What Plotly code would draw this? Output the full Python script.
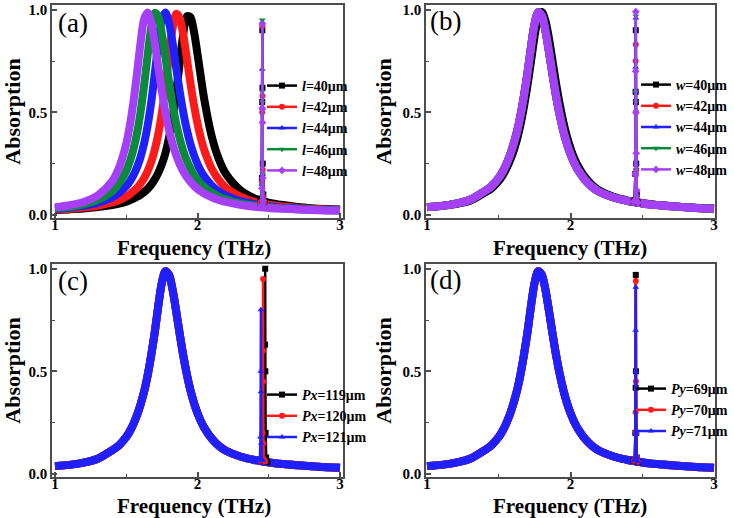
import plotly.graph_objects as go

# ---------------- data ----------------
freq = [1.0, 1.1, 1.2, 1.3, 1.4, 1.45,
        1.5, 1.525, 1.55, 1.575, 1.6, 1.625, 1.65, 1.675, 1.7, 1.725, 1.75, 1.775,
        1.8, 1.825, 1.85, 1.875, 1.9, 1.925, 1.95, 1.975, 2.0, 2.025, 2.05,
        2.1, 2.15, 2.2, 2.3, 2.4, 2.45, 2.5, 2.6, 2.7, 2.8, 2.9, 3.0]

# panel (a): arm length l
a_l40 = [0.024, 0.027, 0.031, 0.038, 0.048, 0.055,
         0.065, 0.071, 0.079, 0.088, 0.098, 0.111, 0.127, 0.147, 0.173, 0.205, 0.247, 0.302,
         0.376, 0.472, 0.595, 0.740, 0.881, 0.968, 0.964, 0.894, 0.784, 0.664, 0.553,
         0.382, 0.271, 0.199, 0.121, 0.081, 0.070, 0.060, 0.048, 0.039, 0.033, 0.029, 0.026]
a_l42 = [0.026, 0.030, 0.036, 0.045, 0.061, 0.073,
         0.090, 0.101, 0.115, 0.131, 0.153, 0.179, 0.214, 0.258, 0.318, 0.395, 0.497, 0.626,
         0.773, 0.909, 0.980, 0.960, 0.878, 0.764, 0.644, 0.536, 0.445, 0.370, 0.311,
         0.225, 0.170, 0.132, 0.089, 0.064, 0.057, 0.050, 0.041, 0.034, 0.030, 0.027, 0.024]
a_l44 = [0.030, 0.035, 0.044, 0.058, 0.085, 0.107,
         0.140, 0.163, 0.193, 0.231, 0.281, 0.347, 0.435, 0.548, 0.687, 0.836, 0.953, 0.986,
         0.937, 0.839, 0.719, 0.602, 0.500, 0.415, 0.346, 0.292, 0.248, 0.213, 0.185,
         0.143, 0.114, 0.094, 0.067, 0.052, 0.046, 0.042, 0.035, 0.031, 0.027, 0.025, 0.023]
a_l46 = [0.033, 0.040, 0.052, 0.073, 0.115, 0.153,
         0.215, 0.260, 0.319, 0.397, 0.500, 0.629, 0.777, 0.914, 0.985, 0.965, 0.883, 0.768,
         0.648, 0.539, 0.447, 0.372, 0.312, 0.265, 0.227, 0.195, 0.171, 0.150, 0.133,
         0.108, 0.089, 0.075, 0.056, 0.045, 0.041, 0.037, 0.032, 0.028, 0.026, 0.023, 0.022]
a_l48 = [0.037, 0.047, 0.063, 0.095, 0.163, 0.231,
         0.347, 0.435, 0.548, 0.687, 0.836, 0.953, 0.986, 0.937, 0.839, 0.719, 0.602, 0.500,
         0.415, 0.346, 0.292, 0.248, 0.213, 0.185, 0.162, 0.143, 0.127, 0.114, 0.103,
         0.086, 0.073, 0.063, 0.049, 0.040, 0.037, 0.034, 0.030, 0.027, 0.024, 0.022, 0.021]

# panel (b): arm width w (w=42..48 coincide)
b_w40 = [0.037, 0.043, 0.053, 0.069, 0.108, 0.130,
         0.165, 0.190, 0.222, 0.260, 0.305, 0.362, 0.435, 0.525, 0.630, 0.750, 0.871, 0.964,
         0.989, 0.947, 0.860, 0.750, 0.639, 0.539, 0.454, 0.383, 0.325, 0.278, 0.241,
         0.185, 0.146, 0.119, 0.088, 0.070, 0.064, 0.058, 0.049, 0.043, 0.038, 0.034, 0.031]
b_w42_48 = [0.038, 0.044, 0.055, 0.074, 0.115, 0.140,
            0.180, 0.208, 0.243, 0.285, 0.338, 0.400, 0.480, 0.578, 0.690, 0.820, 0.932, 0.988,
            0.971, 0.899, 0.795, 0.683, 0.577, 0.486, 0.409, 0.347, 0.296, 0.255, 0.222,
            0.172, 0.137, 0.113, 0.085, 0.068, 0.062, 0.056, 0.048, 0.042, 0.037, 0.033, 0.030]

# panels (c) and (d): broad resonance identical for all periods
cd_main = [0.038, 0.044, 0.055, 0.074, 0.115, 0.140,
           0.180, 0.208, 0.243, 0.285, 0.338, 0.400, 0.480, 0.578, 0.690, 0.820, 0.932, 0.988,
           0.971, 0.899, 0.795, 0.683, 0.577, 0.486, 0.409, 0.347, 0.296, 0.255, 0.222,
           0.172, 0.137, 0.113, 0.085, 0.068, 0.062, 0.056, 0.048, 0.042, 0.037, 0.033, 0.030]

# sharp resonance near 2.45 THz
spike_f = [2.44, 2.448, 2.452, 2.454, 2.455, 2.456, 2.458, 2.462, 2.47]
a_spk40 = [0.074, 0.080, 0.18, 0.55, 0.90, 0.62, 0.25, 0.10, 0.066]
a_spk42 = [0.060, 0.066, 0.16, 0.50, 0.92, 0.58, 0.22, 0.09, 0.053]
a_spk44 = [0.049, 0.055, 0.15, 0.71, 0.94, 0.52, 0.20, 0.08, 0.044]
a_spk46 = [0.043, 0.050, 0.14, 0.60, 0.95, 0.55, 0.20, 0.07, 0.039]
a_spk48 = [0.039, 0.045, 0.13, 0.52, 0.93, 0.45, 0.18, 0.07, 0.036]

b_spk40 = [0.066, 0.070, 0.20, 0.60, 0.90, 0.55, 0.25, 0.10, 0.061]
b_spk42 = [0.064, 0.070, 0.20, 0.75, 0.83, 0.50, 0.22, 0.09, 0.059]
b_spk44 = [0.064, 0.070, 0.20, 0.72, 0.96, 0.60, 0.25, 0.10, 0.059]
b_spk46 = [0.064, 0.070, 0.20, 0.60, 0.97, 0.55, 0.22, 0.09, 0.059]
b_spk48 = [0.064, 0.070, 0.20, 0.70, 0.99, 0.50, 0.30, 0.12, 0.059]

c_spk119_f = [2.46, 2.468, 2.472, 2.474, 2.475, 2.476, 2.478, 2.482, 2.49]
c_spk119 = [0.064, 0.070, 0.20, 0.63, 1.00, 0.50, 0.20, 0.08, 0.058]
c_spk120_f = [2.445, 2.453, 2.457, 2.459, 2.46, 2.461, 2.463, 2.467, 2.475]
c_spk120 = [0.064, 0.070, 0.20, 0.60, 0.95, 0.45, 0.15, 0.07, 0.060]
c_spk121_f = [2.43, 2.438, 2.442, 2.444, 2.445, 2.446, 2.448, 2.452, 2.46]
c_spk121 = [0.066, 0.072, 0.18, 0.50, 0.80, 0.40, 0.15, 0.07, 0.064]

d_spk69 = [0.064, 0.070, 0.20, 0.42, 0.97, 0.50, 0.20, 0.08, 0.059]
d_spk70 = [0.064, 0.070, 0.20, 0.30, 0.94, 0.45, 0.20, 0.08, 0.059]
d_spk71 = [0.064, 0.070, 0.20, 0.70, 0.91, 0.50, 0.20, 0.08, 0.059]

a_names = ["<i>l</i>=40μm", "<i>l</i>=42μm", "<i>l</i>=44μm", "<i>l</i>=46μm", "<i>l</i>=48μm"]
b_names = ["<i>w</i>=40μm", "<i>w</i>=42μm", "<i>w</i>=44μm", "<i>w</i>=46μm", "<i>w</i>=48μm"]
c_names = ["<i>Px</i>=119μm", "<i>Px</i>=120μm", "<i>Px</i>=121μm"]
d_names = ["<i>Py</i>=69μm", "<i>Py</i>=70μm", "<i>Py</i>=71μm"]
panel_labels = ["(a)", "(b)", "(c)", "(d)"]
x_title = "Frequency (THz)"
y_title = "Absorption"
x_ticks = [1, 2, 3]
y_ticks = [0.0, 0.5, 1.0]

# ---------------- styling ----------------
FONT = "Liberation Serif"
C5 = ["#000000", "#ff1a1a", "#2020ff", "#0a8a3a", "#a640f8"]
SYM = ["square", "circle", "triangle-up", "triangle-down", "diamond"]
BAND_W = 8

fig = go.Figure()


def add_panel(ax, legend, bands, spikes, names):
    xa = "x" + ("" if ax == 1 else str(ax))
    ya = "y" + ("" if ax == 1 else str(ax))
    for i, yb in enumerate(bands):
        fig.add_trace(go.Scatter(x=freq, y=yb, mode="lines", xaxis=xa, yaxis=ya,
                                 line=dict(color=C5[i], width=BAND_W, shape="spline", smoothing=0.8),
                                 showlegend=False, hoverinfo="skip"))
    for i, (sx, sy) in enumerate(spikes):
        fig.add_trace(go.Scatter(x=sx, y=sy, mode="lines+markers", xaxis=xa, yaxis=ya,
                                 name="<b>" + names[i] + "</b>", legend=legend,
                                 line=dict(color=C5[i], width=2.5),
                                 marker=dict(color=C5[i], size=6, symbol=SYM[i])))


add_panel(1, "legend", [a_l40, a_l42, a_l44, a_l46, a_l48],
          [(spike_f, a_spk40), (spike_f, a_spk42), (spike_f, a_spk44),
           (spike_f, a_spk46), (spike_f, a_spk48)], a_names)
add_panel(2, "legend2", [b_w40, b_w42_48, b_w42_48, b_w42_48, b_w42_48],
          [(spike_f, b_spk40), (spike_f, b_spk42), (spike_f, b_spk44),
           (spike_f, b_spk46), (spike_f, b_spk48)], b_names)
add_panel(3, "legend3", [cd_main, cd_main, cd_main],
          [(c_spk119_f, c_spk119), (c_spk120_f, c_spk120), (c_spk121_f, c_spk121)], c_names)
add_panel(4, "legend4", [cd_main, cd_main, cd_main],
          [(spike_f, d_spk69), (spike_f, d_spk70), (spike_f, d_spk71)], d_names)

W, H = 734, 518
col_dom = [[52 / W, 343 / W], [426 / W, 715 / W]]
row_dom = [[1 - 218 / H, 1 - 5 / H], [1 - 477 / H, 1 - 264 / H]]
x_rng = [[0.979, 3.021], [0.993, 3.007]]
y_rng = [-0.015, 1.023]

LINEC = "#4d4d4d"
tickfont = dict(family=FONT, size=15, color="black", weight="bold")
titlefont = dict(family=FONT, size=22, color="black", weight="bold")
xtitlefont = dict(family=FONT, size=21, color="black", weight="bold")

layout = dict(width=W, height=H, margin=dict(l=0, r=0, t=0, b=0),
              paper_bgcolor="white", plot_bgcolor="white", hovermode=False)

for k in range(4):
    col = k % 2
    row = k // 2
    sx = "" if k == 0 else str(k + 1)
    layout["xaxis" + sx] = dict(
        domain=col_dom[col], range=x_rng[col], anchor="y" + sx,
        tickvals=x_ticks, ticktext=[str(v) for v in x_ticks],
        ticks="inside", ticklen=5, tickwidth=1.5, tickcolor=LINEC,
        minor=dict(tickvals=[1.5, 2.5], ticks="inside", ticklen=3, tickwidth=1.2, tickcolor=LINEC),
        showline=True, mirror=True, linecolor=LINEC, linewidth=1.5,
        showgrid=False, zeroline=False, tickfont=tickfont, automargin=False,
        ticklabelstandoff=-8)
    layout["yaxis" + sx] = dict(
        domain=row_dom[row], range=y_rng, anchor="x" + sx,
        tickvals=y_ticks, ticktext=["%.1f" % v for v in y_ticks],
        ticks="inside", ticklen=5, tickwidth=1.5, tickcolor=LINEC,
        minor=dict(tickvals=[0.25, 0.75], ticks="inside", ticklen=3, tickwidth=1.2, tickcolor=LINEC),
        showline=True, mirror=True, linecolor=LINEC, linewidth=1.5,
        showgrid=False, zeroline=False, tickfont=tickfont, automargin=False,
        title=dict(text=y_title, font=titlefont, standoff=5))

leg_font = dict(family=FONT, size=14, color="black")
leg_pos = [(262, 70), (636, 69), (262, 379), (631, 373)]
for k, (lx, ly) in enumerate(leg_pos):
    name = "legend" if k == 0 else "legend" + str(k + 1)
    layout[name] = dict(x=lx / W, y=1 - ly / H, xanchor="left", yanchor="top",
                        bgcolor="rgba(0,0,0,0)", borderwidth=0, font=leg_font,
                        itemwidth=30, tracegroupgap=0)

ann = []
lab_pos = [(56, 6), (428, 4), (56, 264), (428, 263)]
for k, (px, py) in enumerate(lab_pos):
    ann.append(dict(text=panel_labels[k], x=px / W, y=1 - py / H, xref="paper", yref="paper",
                    xanchor="left", yanchor="top", showarrow=False,
                    font=dict(family=FONT, size=27, color="black")))
xt_pos = [(194, 247.5), (570, 247.5), (194, 505.5), (570, 505.5)]
for k, (px, py) in enumerate(xt_pos):
    ann.append(dict(text=x_title, x=px / W, y=1 - py / H, xref="paper", yref="paper",
                    xanchor="center", yanchor="middle", showarrow=False, font=xtitlefont))
layout["annotations"] = ann

fig.update_layout(**layout)
fig.write_html("out.html", config={"displayModeBar": False},
               post_script="document.body.style.margin='0px';")
